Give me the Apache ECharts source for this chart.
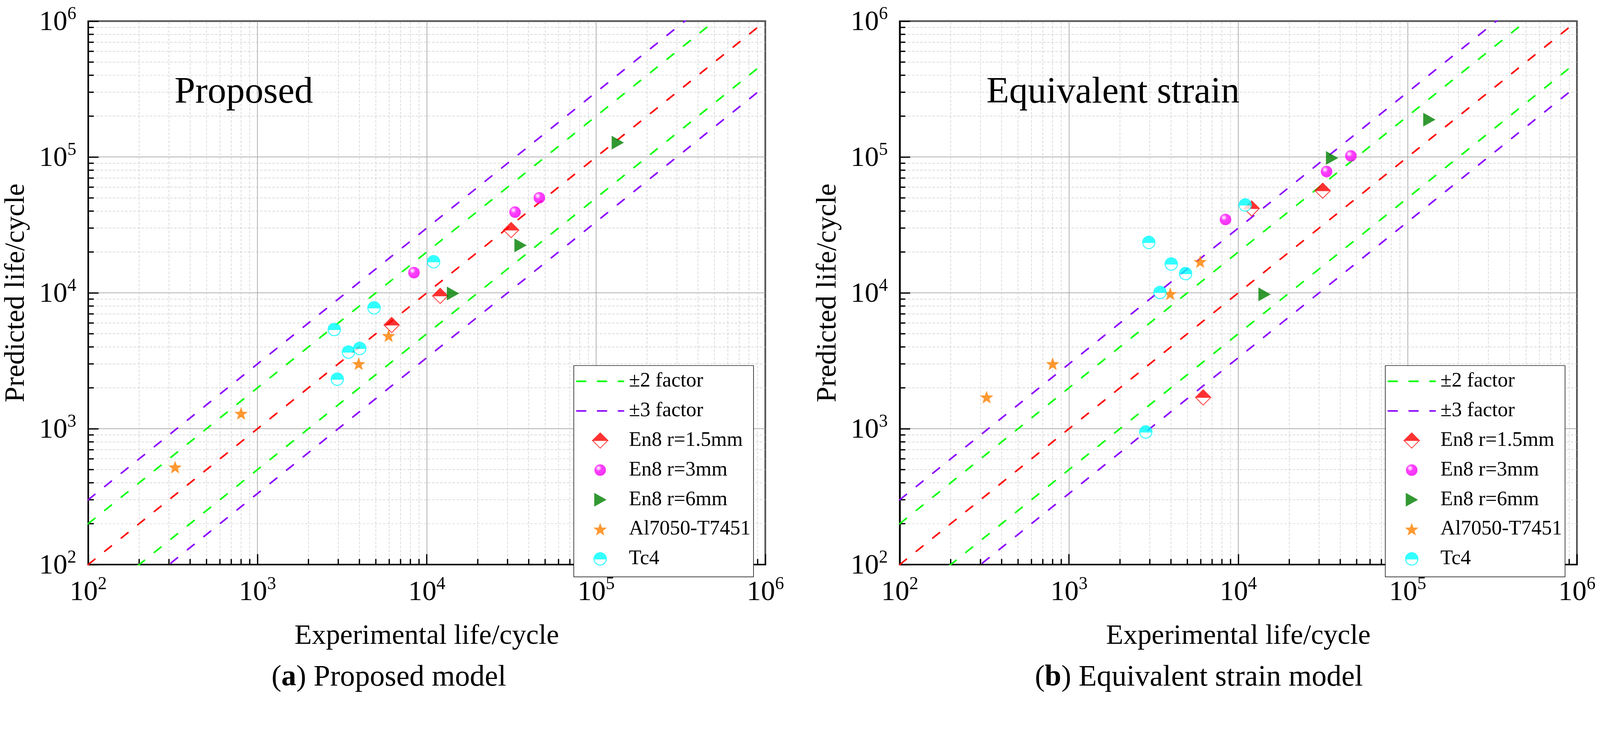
<!DOCTYPE html>
<html>
<head>
<meta charset="utf-8">
<title>Predicted vs experimental life</title>
<script src="https://cdn.jsdelivr.net/npm/echarts@6/dist/echarts.min.js"></script>
<style>
  html, body { margin: 0; padding: 0; background: #fff; overflow: hidden; }
  #chart { width: 100vw; height: 100vh; }
</style>
</head>
<body>
<div id="chart"></div>
<script>
// ---------------------------------------------------------------
// data (experimental life vs predicted life)
// ---------------------------------------------------------------
const tickExponents = [2, 3, 4, 5, 6];
const minorMultipliers = [2, 3, 4, 5, 6, 7, 8, 9];
const factors = [2, 3];
const diagonalX = [100, 1000000];

const en15X = [6200, 12000, 31500];
const en15Proposed = [5800, 9500, 29000];
const en15Equivalent = [1700, 41800, 56500];

const en3X = [8400, 33200, 46200];
const en3Proposed = [14100, 39300, 50100];
const en3Equivalent = [34700, 78200, 102000];

const en6X = [14250, 35700, 134000];
const en6Proposed = [9900, 22400, 127700];
const en6Equivalent = [9750, 98400, 188500];

const alX = [326, 800, 3960, 5950];
const alProposed = [521, 1294, 3005, 4830];
const alEquivalent = [1706, 3005, 9840, 16940];

const tcX = [2840, 2960, 3447, 4017, 4880, 10975];
const tcProposed = [5370, 2316, 3665, 3900, 7760, 16940];
const tcEquivalent = [946, 23500, 10070, 16300, 13870, 44360];

const panelTitles = ["Proposed", "Equivalent strain"];
const panelCaptions = ["({b|a}) Proposed model", "({b|b}) Equivalent strain model"];

// ---------------------------------------------------------------
// layout is drawn for a 4300 x 1903 page and scaled to the real viewport
const S = Math.min(window.innerWidth / 4300, window.innerHeight / 1903);
const p = v => v * S;

const FONT = "Liberation Serif";
const AXIS_MIN = Math.pow(10, tickExponents[0]);
const AXIS_MAX = Math.pow(10, tickExponents[tickExponents.length - 1]);

const minorValues = [];
tickExponents.slice(0, -1).forEach(e => {
  minorMultipliers.forEach(m => minorValues.push(m * Math.pow(10, e)));
});

// marker drawings (svg), used for the scatter symbols and the legend icons
function svgUri(w, h, body) {
  const svg = `<svg xmlns="http://www.w3.org/2000/svg" width="${w}" height="${h}" viewBox="0 0 ${w} ${h}">${body}</svg>`;
  return "image://data:image/svg+xml;charset=utf-8," + encodeURIComponent(svg);
}

const markers = {
  diamond: (cx, cy) => {
    const h = 20.5;
    return `<polygon points="${cx},${cy - h} ${cx + h},${cy} ${cx},${cy + h} ${cx - h},${cy}" fill="#fff" stroke="#ff0000" stroke-width="2"/>` +
      `<polygon points="${cx - h},${cy} ${cx},${cy - h} ${cx + h},${cy}" fill="#ff0000" stroke="#ff0000" stroke-width="2"/>`;
  },
  sphere: (cx, cy) =>
    `<defs><radialGradient id="g" cx="0.36" cy="0.33" r="0.7">` +
    `<stop offset="0" stop-color="#ffffff"/><stop offset="0.16" stop-color="#ffa8ff"/>` +
    `<stop offset="0.38" stop-color="#ff10ff"/><stop offset="1" stop-color="#f000f0"/></radialGradient></defs>` +
    `<circle cx="${cx}" cy="${cy}" r="15.5" fill="url(#g)"/>`,
  triangle: (cx, cy) =>
    `<polygon points="${cx - 16},${cy - 18.5} ${cx + 17},${cy} ${cx - 16},${cy + 18.5}" fill="#008000"/>`,
  star: (cx, cy) => {
    const pts = [];
    for (let i = 0; i < 10; i++) {
      const r = i % 2 === 0 ? 19 : 7.8;
      const a = (-90 + i * 36) * Math.PI / 180;
      pts.push((cx + r * Math.cos(a)).toFixed(2) + "," + (cy + 1.5 + r * Math.sin(a)).toFixed(2));
    }
    return `<polygon points="${pts.join(" ")}" fill="#ff8000"/>`;
  },
  halfCircle: (cx, cy) => {
    const r = 16.5;
    return `<circle cx="${cx}" cy="${cy}" r="${r}" fill="#fff" stroke="#00ffff" stroke-width="2.6"/>` +
      `<path d="M${cx - r},${cy} A${r},${r} 0 0 1 ${cx + r},${cy} Z" fill="#00ffff" stroke="#00ffff" stroke-width="2.6"/>`;
  }
};

const markerSize = {
  diamond: [44, 44], sphere: [34, 34], triangle: [36, 40], star: [40, 40], halfCircle: [38, 38]
};

function symbolOf(kind) {
  const [w, h] = markerSize[kind];
  return svgUri(w, h, markers[kind](w / 2, h / 2));
}
function legendIconOf(kind) {
  return svgUri(130, 44, markers[kind](65, 22));
}
function legendLineOf(color) {
  return svgUri(130, 44,
    `<line x1="2" y1="22" x2="128" y2="22" stroke="${color}" stroke-width="4.3" stroke-dasharray="24 32" stroke-linecap="round"/>`);
}

const materials = [
  { name: "En8 r=1.5mm", kind: "diamond", x: en15X, y: [en15Proposed, en15Equivalent] },
  { name: "En8 r=3mm", kind: "sphere", x: en3X, y: [en3Proposed, en3Equivalent] },
  { name: "En8 r=6mm", kind: "triangle", x: en6X, y: [en6Proposed, en6Equivalent] },
  { name: "Al7050-T7451", kind: "star", x: alX, y: [alProposed, alEquivalent] },
  { name: "Tc4", kind: "halfCircle", x: tcX, y: [tcProposed, tcEquivalent] }
];

const GREEN = "#00ff00";
const PURPLE = "#8b00ff";
const RED = "#ff0000";
const factorColors = [GREEN, PURPLE];
const factorNames = ["±2 factor", "±3 factor"];

// ---------------------------------------------------------------
const chart = echarts.init(document.getElementById("chart"));

const gridLefts = [237, 2418];
const GRID_W = 1820, GRID_TOP = 57, GRID_H = 1461;

function expLabel(v) {
  const e = tickExponents.find(k => Math.abs(Math.pow(10, k) - v) < 1e-6 * v);
  return e === undefined ? "" : "{a|10}{b|" + e + "}";
}
const labelRich = {
  a: { fontSize: p(76), fontFamily: FONT, color: "#000", verticalAlign: "bottom" },
  b: { fontSize: p(48), fontFamily: FONT, color: "#000", verticalAlign: "bottom", padding: [0, 0, p(36), 0] }
};

function makeAxis(gi, isX) {
  return {
    type: "log",
    logBase: 10,
    gridIndex: gi,
    min: AXIS_MIN,
    max: AXIS_MAX,
    name: isX ? "Experimental life/cycle" : "Predicted life/cycle",
    nameLocation: "middle",
    nameGap: p(155),
    nameTextStyle: { fontSize: p(76), fontFamily: FONT, color: "#000" },
    axisLine: { show: true, onZero: false, lineStyle: { color: "#000", width: p(4) } },
    axisTick: { show: true, inside: true, length: p(28), lineStyle: { color: "#000", width: p(3.5) } },
    axisLabel: {
      show: true,
      margin: p(isX ? 29 : 32),
      showMinLabel: true,
      showMaxLabel: true,
      formatter: expLabel,
      rich: labelRich
    },
    splitLine: { show: true, lineStyle: { color: "#999999", width: p(1.6) } }
  };
}

const series = [];
[0, 1].forEach(gi => {
  // minor grid lines and minor ticks at 2..9 x 10^k
  series.push({
    type: "custom",
    name: "minor-" + gi,
    xAxisIndex: gi,
    yAxisIndex: gi,
    silent: true,
    z: 1,
    data: minorValues.map(v => [v, v]),
    renderItem: (params, api) => {
      const v = api.value(0);
      const b = api.coord([v, AXIS_MIN]);
      const t = api.coord([v, AXIS_MAX]);
      const l = api.coord([AXIS_MIN, v]);
      const r = api.coord([AXIS_MAX, v]);
      const dash = { stroke: "#c8c8c8", lineWidth: p(1.3), lineDash: [p(7), p(4)] };
      const tick = { stroke: "#000", lineWidth: p(3.5) };
      return {
        type: "group",
        children: [
          { type: "line", shape: { x1: b[0], y1: b[1], x2: t[0], y2: t[1] }, style: dash },
          { type: "line", shape: { x1: l[0], y1: l[1], x2: r[0], y2: r[1] }, style: dash },
          { type: "line", shape: { x1: b[0], y1: b[1], x2: b[0], y2: b[1] - p(15) }, style: tick },
          { type: "line", shape: { x1: l[0], y1: l[1], x2: l[0] + p(15), y2: l[1] }, style: tick }
        ]
      };
    }
  });

  // 1:1 line and factor bands
  const dashLine = (color) => ({ color: color, width: p(4.3), type: [p(23), p(34)], cap: "round" });
  series.push({
    type: "line", name: "1:1", xAxisIndex: gi, yAxisIndex: gi, z: 3,
    showSymbol: false, symbol: "none", silent: true, clip: true,
    lineStyle: dashLine(RED), itemStyle: { color: RED },
    data: diagonalX.map(x => [x, x])
  });
  factors.forEach((f, fi) => {
    [f, 1 / f].forEach(k => {
      series.push({
        type: "line", name: factorNames[fi], xAxisIndex: gi, yAxisIndex: gi, z: 3,
        showSymbol: false, symbol: "none", silent: true, clip: true,
        lineStyle: dashLine(factorColors[fi]), itemStyle: { color: factorColors[fi] },
        data: diagonalX.map(x => [x, x * k])
      });
    });
  });

  // measured points
  materials.forEach(m => {
    series.push({
      type: "scatter",
      name: m.name,
      xAxisIndex: gi,
      yAxisIndex: gi,
      z: 5,
      symbol: symbolOf(m.kind),
      symbolSize: markerSize[m.kind].map(p),
      data: m.x.map((x, i) => [x, m.y[gi][i]])
    });
  });
});

const legendData = factorNames.map((n, i) => ({ name: n, icon: legendLineOf(factorColors[i]) }))
  .concat(materials.map(m => ({ name: m.name, icon: legendIconOf(m.kind) })));

const legendLefts = [1542, 3723];

const option = {
  backgroundColor: "#fff",
  animation: false,
  grid: gridLefts.map(left => ({
    left: p(left), top: p(GRID_TOP), width: p(GRID_W), height: p(GRID_H),
    show: true, borderColor: "#000", borderWidth: p(4), backgroundColor: "transparent",
    containLabel: false
  })),
  xAxis: [makeAxis(0, true), makeAxis(1, true)],
  yAxis: [makeAxis(0, false), makeAxis(1, false)],
  legend: legendLefts.map(left => ({
    left: p(left),
    top: p(983),
    orient: "vertical",
    selectedMode: false,
    backgroundColor: "#fff",
    borderColor: "#000",
    borderWidth: p(1.5),
    padding: [15, 8, 21, 6].map(p),
    itemWidth: p(130),
    itemHeight: p(44),
    itemGap: p(25),
    textStyle: { fontSize: p(55), fontFamily: FONT, color: "#000", padding: [0, 0, 0, p(7)] },
    data: legendData,
    z: 10
  })),
  graphic: [
    {
      type: "text", x: p(469), y: p(250), z: 20,
      style: { text: panelTitles[0], font: p(100) + "px " + FONT, fill: "#000", align: "left", verticalAlign: "middle" }
    },
    {
      type: "text", x: p(2651), y: p(250), z: 20,
      style: { text: panelTitles[1], font: p(100) + "px " + FONT, fill: "#000", align: "left", verticalAlign: "middle" }
    },
    {
      type: "text", x: p(1045), y: p(1822), z: 20,
      style: {
        text: panelCaptions[0], font: p(80) + "px " + FONT, fill: "#000", align: "center", verticalAlign: "middle",
        rich: { b: { font: "bold " + p(80) + "px " + FONT, fill: "#000" } }
      }
    },
    {
      type: "text", x: p(3222), y: p(1822), z: 20,
      style: {
        text: panelCaptions[1], font: p(80) + "px " + FONT, fill: "#000", align: "center", verticalAlign: "middle",
        rich: { b: { font: "bold " + p(80) + "px " + FONT, fill: "#000" } }
      }
    }
  ],
  series: series
};

chart.setOption(option);
window.addEventListener("resize", () => chart.resize());
</script>
</body>
</html>
